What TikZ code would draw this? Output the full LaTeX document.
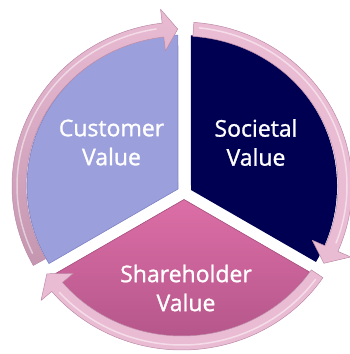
\documentclass[tikz,border=0pt]{standalone}
\usepackage{fontspec}
\setmainfont{Open Sans}
\newfontfamily\valuefont{Open Sans}[FakeBold=1.2]

\definecolor{custblue}{RGB}{155,159,220}
\definecolor{custedge}{RGB}{125,129,196}
\definecolor{socnavy}{RGB}{0,0,82}
\definecolor{sharetop}{RGB}{220,110,166}
\definecolor{sharebot}{RGB}{180,86,138}
\definecolor{ringpink}{RGB}{234,188,212}
\definecolor{ringmauve}{RGB}{196,150,176}
\definecolor{ringedge}{RGB}{188,138,166}

% one bent arrow of the cycle: options, start angle, head base angle, tip angle
\newcommand{\cyclearrow}[4]{%
  \path[#1] (#2:170bp and 164bp)
    arc[start angle=#2, end angle=#3, x radius=170bp, y radius=164bp]
    -- (#3:184bp and 178bp) -- (#4:163bp and 157bp) -- (#3:142bp and 136bp)
    -- (#3:156bp and 150bp)
    arc[start angle=#3, end angle=#2, x radius=156bp, y radius=150bp] -- cycle;}

\begin{document}
\begin{tikzpicture}[
    valuetext/.style={text=white, align=center, inner sep=0pt,
      font=\valuefont\fontsize{23bp}{29bp}\selectfont},
    ringline/.style={draw=ringedge, line width=.5bp, line join=round}]
  \useasboundingbox (0bp,0bp) rectangle (350bp,354bp);

  \begin{scope}[shift={(182bp,168bp)}]
    % the three pieces of the pie, pulled apart a little
    \filldraw (-4bp,-3bp) -- (91.5:155bp and 151bp)
      arc[start angle=91.5, end angle=210.9, x radius=155bp, y radius=151bp] -- cycle
      [fill=custblue, draw=custedge, line width=.6bp];
    \fill (9bp,-4bp) -- (-30.2:155bp and 151bp)
      arc[start angle=-30.2, end angle=86.7, x radius=155bp, y radius=151bp] -- cycle
      [socnavy];
    \shadedraw[top color=sharetop, bottom color=sharebot, draw=sharebot!90!black, line width=.6bp]
      (2bp,-13.5bp) -- (215.4:155bp and 151bp)
      arc[start angle=215.4, end angle=325.3, x radius=155bp, y radius=151bp] -- cycle;

    % ring of arrows
    \cyclearrow{ringline, top color=ringpink, bottom color=ringmauve, shade}{209}{96.7}{91.5}
    \cyclearrow{ringline, fill=ringpink}{86}{-23.5}{-29.5}
    \cyclearrow{ringline, fill=ringpink}{-34}{-140}{-146}

    \draw (205:165bp and 159bp) arc[start angle=205, end angle=99, x radius=165bp, y radius=159bp]
      [white, opacity=.5, line width=1.5bp, line cap=round];
    \draw (84:165bp and 159bp) arc[start angle=84, end angle=-21, x radius=165bp, y radius=159bp]
      [white, opacity=.5, line width=1.5bp, line cap=round];
    \draw (-36:165bp and 159bp) arc[start angle=-36, end angle=-138, x radius=165bp, y radius=159bp]
      [white, opacity=.5, line width=1.5bp, line cap=round];
  \end{scope}

  \node (cust)  at (111.5bp,211.5bp) [valuetext] {Customer\\Value};
  \node (soc)   at (256bp,211.5bp)   [valuetext] {Societal\\Value};
  \node (share) at (186bp,66bp)      [valuetext] {Shareholder\\Value};
\end{tikzpicture}
\end{document}
